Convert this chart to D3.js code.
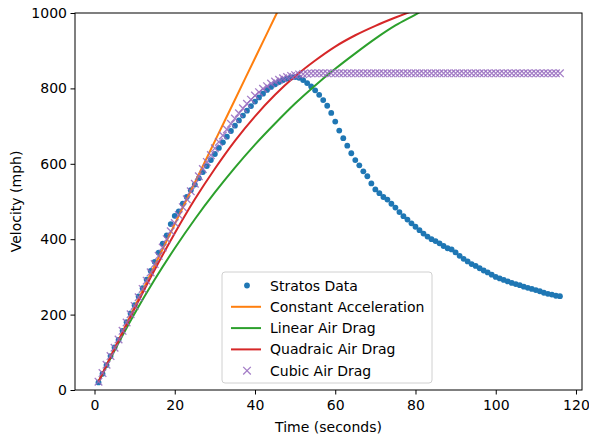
<!DOCTYPE html>
<html>
<head>
<meta charset="utf-8">
<script src="https://cdn.jsdelivr.net/npm/d3@7"></script>
<style>
  body { margin: 0; background: #fff; }
  text { font-family: "DejaVu Sans", sans-serif; }
</style>
</head>
<body>
<script>
// time in seconds for the measured points and the cubic model
const times = d3.range(1, 117);

// measured Stratos velocity (mph), one per second
const stratos = [
  20, 43, 66, 90, 113, 133, 157, 180, 203, 225,
  248, 270, 293, 316, 340, 364, 388, 410, 440, 462,
  474, 494, 512, 530, 545, 562, 578, 594, 610, 626,
  642, 657, 672, 687, 701, 715, 728, 741, 753, 765,
  776, 786, 796, 804, 811, 817, 822, 826, 829, 830,
  828, 822, 814, 805, 795, 783, 769, 754, 735, 712,
  688, 668, 648, 628, 610, 596, 580, 567, 548, 532,
  522, 512, 505, 494, 484, 472, 461, 452, 442, 433,
  424, 415, 407, 400, 395, 389, 382, 376, 373, 365,
  356, 348, 341, 334, 329, 323, 317, 312, 306, 300,
  296, 292, 288, 284, 281, 278, 274, 271, 268, 265,
  262, 258, 255, 253, 250, 249
];

// cubic air drag model (mph)
const cubicDrag = [
  22, 45, 67, 90, 112, 134, 157, 179, 201, 223,
  246, 268, 290, 312, 334, 356, 378, 400, 421, 443,
  464, 485, 506, 527, 547, 567, 586, 605, 623, 641,
  658, 675, 691, 706, 720, 734, 747, 759, 770, 781,
  790, 799, 806, 813, 818, 823, 827, 830, 833, 835,
  837, 838, 839, 840, 840, 840, 840, 840, 840, 840,
  840, 840, 840, 840, 840, 840, 840, 840, 840, 840,
  840, 840, 840, 840, 840, 840, 840, 840, 840, 840,
  840, 840, 840, 840, 840, 840, 840, 840, 840, 840,
  840, 840, 840, 840, 840, 840, 840, 840, 840, 840,
  840, 840, 840, 840, 840, 840, 840, 840, 840, 840,
  840, 840, 840, 840, 840, 840
];

// model curves read every 5 seconds
const modelTimes = [1, 5, 10, 15, 20, 25, 30, 35, 40, 45, 50, 55, 60, 65, 70, 75, 80, 85];
const constAccel = [22, 110, 220, 330, 440, 550, 660, 770, 880, 990, 1100, 1210, 1320, 1430, 1540, 1650, 1760, 1870];
const linearDrag = [22, 105, 203, 293, 376, 453, 524, 590, 651, 707, 760, 808, 852, 893, 932, 967, 996, 1026];
const quadDrag = [22, 109, 216, 319, 416, 506, 587, 661, 726, 783, 832, 874, 911, 941, 966, 988, 1008, 1024];

const xTicks = [0, 20, 40, 60, 80, 100, 120];
const yTicks = [0, 200, 400, 600, 800, 1000];

const legendLabels = ["Stratos Data", "Constant Acceleration", "Linear Air Drag", "Quadraic Air Drag", "Cubic Air Drag"];
const colors = ["#1f77b4", "#ff7f0e", "#2ca02c", "#d62728", "#9467bd"];

// canvas size
const width = 589;
const height = 435;
const mLeft = 75, mRight = 582, mTop = 13, mBottom = 390;
const fontSize = "14px";

const svg = d3.select("body").append("svg")
  .attr("width", width)
  .attr("height", height);

const xScale = d3.scaleLinear().domain([-4.86, 121.5]).range([mLeft, mRight]);
const yScale = d3.scaleLinear().domain([0, 1000]).range([mBottom, mTop]);

// clip everything to the axes box
svg.append("clipPath").attr("id", "clip")
  .append("rect")
  .attr("x", mLeft).attr("y", mTop)
  .attr("width", mRight - mLeft).attr("height", mBottom - mTop);

const plot = svg.append("g").attr("clip-path", "url(#clip)");

// measured points
plot.selectAll("circle.data")
  .data(times)
  .enter()
  .append("circle")
  .attr("class", "data")
  .attr("cx", (d) => xScale(d))
  .attr("cy", (d, i) => yScale(stratos[i]))
  .attr("r", 2.9)
  .style("fill", colors[0]);

// model lines
const line = d3.line()
  .x((d, i) => xScale(modelTimes[i]))
  .y((d) => yScale(d))
  .curve(d3.curveMonotoneX);

[constAccel, linearDrag, quadDrag].forEach(function (vals, k) {
  plot.append("path")
    .datum(vals)
    .attr("d", line)
    .style("fill", "none")
    .style("stroke", colors[k + 1])
    .style("stroke-width", 2);
});

// cubic model crosses
const cross = "M-3.8,-3.8L3.8,3.8M-3.8,3.8L3.8,-3.8";
plot.selectAll("path.cubic")
  .data(times)
  .enter()
  .append("path")
  .attr("class", "cubic")
  .attr("d", cross)
  .attr("transform", (d, i) => "translate(" + xScale(d) + "," + yScale(cubicDrag[i]) + ")")
  .style("fill", "none")
  .style("stroke", colors[4])
  .style("stroke-opacity", 0.85)
  .style("stroke-width", 1.3);

// axes
const xAxis = d3.axisBottom(xScale).tickValues(xTicks).tickSize(4.5).tickPadding(6).tickFormat(d3.format("d"));
const yAxis = d3.axisLeft(yScale).tickValues(yTicks).tickSize(4.5).tickPadding(3.5).tickFormat(d3.format("d"));

svg.append("g")
  .attr("transform", "translate(0," + mBottom + ")")
  .call(xAxis);
svg.append("g")
  .attr("transform", "translate(" + mLeft + ",0)")
  .call(yAxis);

svg.selectAll(".tick text")
  .style("font-size", fontSize)
  .style("font-family", "DejaVu Sans")
  .style("fill", "#000");
svg.selectAll(".domain").remove();
svg.selectAll(".tick line").style("stroke", "#000").style("stroke-width", 1);

// frame
svg.append("rect")
  .attr("x", mLeft).attr("y", mTop)
  .attr("width", mRight - mLeft).attr("height", mBottom - mTop)
  .style("fill", "none")
  .style("stroke", "#000")
  .style("stroke-width", 1);

// axis titles
svg.append("text")
  .text("Time (seconds)")
  .style("text-anchor", "middle")
  .style("font-size", fontSize)
  .attr("x", (mLeft + mRight) / 2)
  .attr("y", 432);

svg.append("text")
  .text("Velocity (mph)")
  .style("text-anchor", "middle")
  .style("font-size", fontSize)
  .attr("transform", "translate(21," + (mTop + mBottom) / 2 + ") rotate(-90)");

// legend
const legend = svg.append("g").attr("transform", "translate(222,272)");
legend.append("rect")
  .attr("width", 210).attr("height", 111)
  .attr("rx", 3)
  .style("fill", "#fff")
  .style("fill-opacity", 0.8)
  .style("stroke", "#d0d0d0");

legendLabels.forEach(function (label, i) {
  const cy = 13.5 + i * 21.3;
  if (i === 0) {
    legend.append("circle").attr("cx", 25).attr("cy", cy).attr("r", 2.9).style("fill", colors[0]);
  } else if (i === 4) {
    legend.append("path").attr("d", cross)
      .attr("transform", "translate(25," + cy + ")")
      .style("fill", "none").style("stroke", colors[4])
      .style("stroke-opacity", 0.85).style("stroke-width", 1.3);
  } else {
    legend.append("line")
      .attr("x1", 9).attr("x2", 39).attr("y1", cy).attr("y2", cy)
      .style("stroke", colors[i]).style("stroke-width", 2);
  }
  legend.append("text")
    .text(label)
    .attr("x", 48)
    .attr("y", cy + 5)
    .style("font-size", fontSize);
});
</script>
</body>
</html>
